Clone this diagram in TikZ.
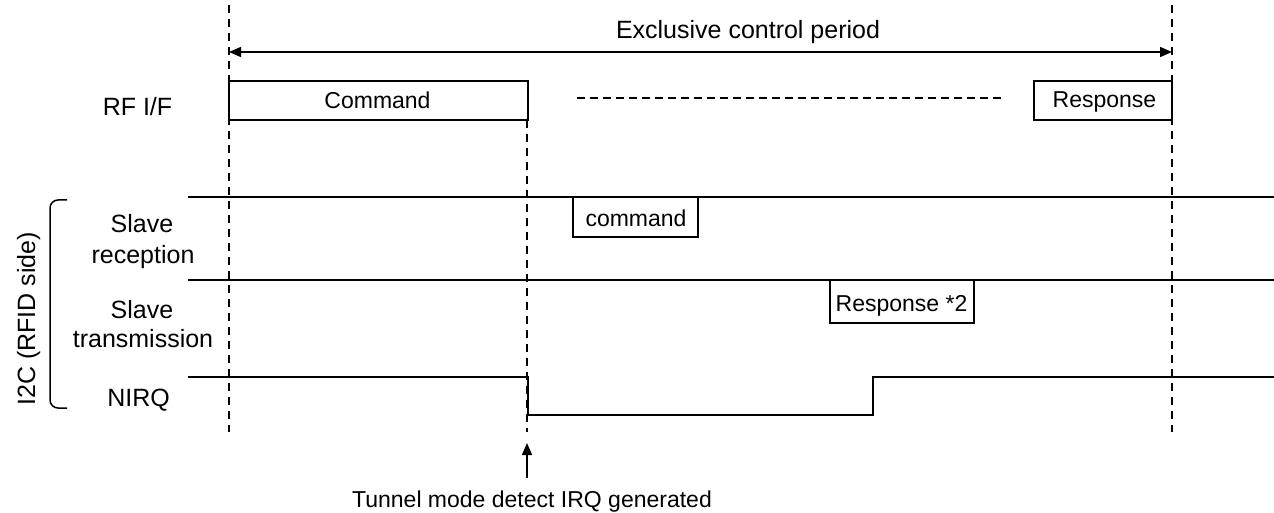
\documentclass[tikz,border=0pt]{standalone}
\usepackage{fontspec}
\setmainfont{Liberation Sans}
\usetikzlibrary{arrows.meta}
\begin{document}
\begin{tikzpicture}[x=1pt,y=-1pt,
  lbl/.style={font=\fontsize{25}{30}\selectfont, inner sep=0pt, anchor=base},
  boxlbl/.style={font=\fontsize{23}{28}\selectfont, inner sep=0pt, anchor=base},
  sigbox/.style={draw, line width=1.8pt, inner sep=0pt},
  sig/.style={line width=1.8pt},
  guide/.style={line width=1.8pt, dash pattern=on 8pt off 6pt},
  gap/.style={line width=1.8pt, dash pattern=on 8pt off 5pt},
  tip/.style={-{Triangle[length=12pt,width=10pt]}, line width=1.6pt}]
\useasboundingbox (0,0) rectangle (1274,513);

% guide coordinates
\coordinate (g1t) at (229,5);
\coordinate (g1b) at (229,432);
\coordinate (g3t) at (1172,5);
\coordinate (g3b) at (1172,432);
\coordinate (g2t) at (527,120);
\coordinate (g2b) at (527,432);

% vertical dashed guides
\draw[guide] (g1t) -- (g1b);
\draw[guide] (g3t) -- (g3b);
\draw[guide] (g2t) -- (g2b);

% exclusive control period arrow
\coordinate (pl) at (229,52);
\coordinate (pr) at (1172,52);
\draw[tip] (748,52) -- (pl);
\draw[tip] (748,52) -- (pr);
\node[lbl] (excl) at (748,39) {Exclusive control period};

% RF I/F row
\node[lbl] (rfif) at (137.5,116) {RF I/F};
\node[sigbox, minimum width=299pt, minimum height=39pt, fill=white] (cmdRF) at (378.5,100.5) {};
\node[boxlbl] (cmdRFt) at (377.5,109) {Command};
\coordinate (dl) at (577,98);
\coordinate (dr) at (1002,98);
\draw[gap] (dl) -- (dr);
\node[sigbox, minimum width=138pt, minimum height=39pt, fill=white] (respRF) at (1103,100.5) {};
\node[boxlbl] (respRFt) at (1104.5,108) {Response};

% I2C rows
\coordinate (r1l) at (188,197);
\coordinate (r1r) at (1274,197);
\coordinate (r2l) at (188,280);
\coordinate (r2r) at (1274,280);
\draw[sig] (r1l) -- (r1r);
\draw[sig] (r2l) -- (r2r);

\node[sigbox, minimum width=125pt, minimum height=40pt] (cmdSl) at (635.5,217) {};
\node[boxlbl] (cmdSlt) at (636,226) {command};
\node[sigbox, minimum width=144pt, minimum height=43pt] (respSl) at (902,301.5) {};
\node[boxlbl] (respSlt) at (901.5,311) {Response *2};

% NIRQ waveform
\coordinate (n0) at (188,377);
\coordinate (n1) at (528,377);
\coordinate (n2) at (528,415);
\coordinate (n3) at (873,415);
\coordinate (n4) at (873,377);
\coordinate (n5) at (1274,377);
\draw[sig] (n0) -- (n1) -- (n2) -- (n3) -- (n4) -- (n5);

% left labels
\node[lbl] (sr1) at (142,233) {Slave};
\node[lbl] (sr2) at (143,263) {reception};
\node[lbl] (st1) at (142,318) {Slave};
\node[lbl] (st2) at (143,347) {transmission};
\node[lbl] (nirq) at (138.5,406) {NIRQ};

% bracket
\draw[line width=1.5pt, rounded corners=8pt] (67,200) -- (50,200) -- (50,408) -- (67,408);
\node[lbl, rotate=90] (i2c) at (35,319) {I2C (RFID side)};

% IRQ arrow
\coordinate (aB) at (527,478);
\coordinate (aT) at (527,443);
\draw[tip] (aB) -- (aT);
\node[boxlbl] (tun) at (532,507) {Tunnel mode detect IRQ generated};
\end{tikzpicture}
\end{document}
